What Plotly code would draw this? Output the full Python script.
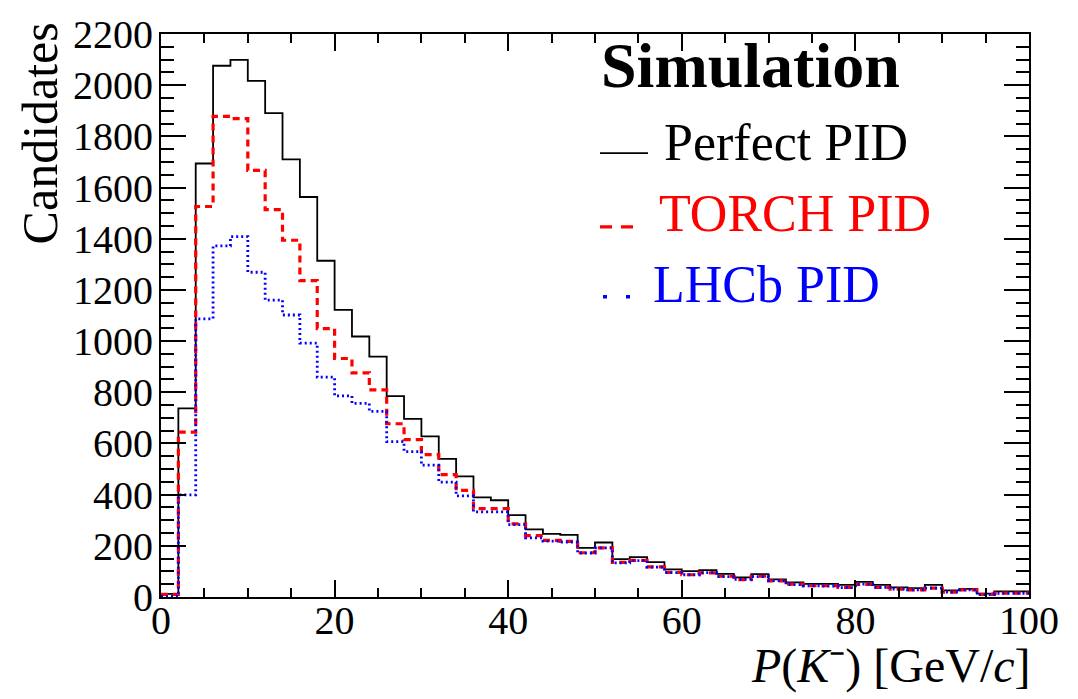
import plotly.graph_objects as go

# Histogram binning: 50 bins of 2 GeV/c from 0 to 100
bin_edges = [2 * i for i in range(51)]

perfect_pid = [12, 737, 1694, 2076, 2099, 2017, 1891, 1710, 1563, 1314,
               1122, 1018, 939, 785, 696, 628, 540, 471, 389, 378,
               320, 264, 247, 243, 192, 213, 148, 156, 136, 108,
               101, 105, 90, 77, 89, 69, 57, 51, 51, 47,
               59, 47, 38, 35, 47, 26, 32, 13, 22, 22]

torch_pid = [10, 644, 1526, 1878, 1869, 1667, 1514, 1394, 1236, 1049,
             932, 876, 809, 677, 615, 556, 478, 417, 345, 345,
             286, 240, 221, 217, 173, 192, 135, 143, 118, 96,
             87, 94, 81, 68, 81, 63, 50, 44, 44, 38,
             49, 38, 31, 28, 35, 19, 28, 10, 15, 15]

lhcb_pid = [2, 399, 1087, 1372, 1408, 1269, 1160, 1102, 992, 859,
            786, 757, 725, 607, 568, 515, 449, 395, 333, 333,
            283, 231, 218, 215, 172, 192, 133, 142, 117, 95,
            87, 95, 80, 69, 80, 64, 48, 44, 43, 37,
            50, 38, 31, 28, 35, 19, 28, 9, 14, 14]

series_names = ["Perfect PID", "TORCH PID", "LHCb PID"]
series_colors = ["#000000", "#ff0000", "#0000ff"]

W, H = 1078, 699
ML, MR, MT, MB = 161, 49, 25, 102
PW, PH = W - ML - MR, H - MT - MB

SERIF = "Liberation Serif, Times New Roman, serif"


def paper_x(px):
    return (px - ML) / PW


def paper_y(py):
    return (H - MB - py) / PH


def step_xy(values):
    return bin_edges, list(values) + [values[-1]]


fig = go.Figure()

line_styles = [
    dict(color=series_colors[0], width=1.8),
    dict(color=series_colors[1], width=3.2, dash="7px,5px"),
    dict(color=series_colors[2], width=2.8, dash="2px,3px"),
]

for vals, name, style in zip([perfect_pid, torch_pid, lhcb_pid], series_names, line_styles):
    xs, ys = step_xy(vals)
    fig.add_trace(go.Scatter(x=xs, y=ys, mode="lines", line_shape="hv",
                             line=style, name=name, showlegend=False,
                             hoverinfo="skip"))

axis_common = dict(
    showgrid=False, zeroline=False, showline=True, linecolor="black",
    linewidth=2, ticks="inside", mirror="ticks", tickcolor="black",
    tickwidth=1.5, tickfont=dict(family=SERIF, size=40, color="black"),
)

fig.update_xaxes(range=[0, 100], dtick=20, tick0=0, ticklen=17,
                 ticklabelstandoff=-13,
                 minor=dict(dtick=5, ticklen=9, ticks="inside",
                            tickcolor="black", tickwidth=1.5),
                 **axis_common)
fig.update_yaxes(range=[0, 2200], dtick=200, tick0=0, ticklen=25,
                 ticklabelstandoff=-2,
                 minor=dict(dtick=50, ticklen=13, ticks="inside",
                            tickcolor="black", tickwidth=1.5),
                 **axis_common)

annotations = []

# Axis titles
annotations.append(dict(
    text="Candidates", textangle=-90, showarrow=False,
    xref="paper", yref="paper", x=paper_x(40), y=paper_y(126),
    xanchor="center", yanchor="middle",
    font=dict(family=SERIF, size=50, color="black")))
annotations.append(dict(
    text="<i>P</i>(<i>K</i>\u207b) [GeV/<i>c</i>]", showarrow=False,
    xref="paper", yref="paper", x=paper_x(1032), y=paper_y(667),
    xanchor="right", yanchor="middle", borderpad=0,
    font=dict(family=SERIF, size=48, color="black")))

# Legend block
annotations.append(dict(
    text="<b>Simulation</b>", showarrow=False,
    xref="paper", yref="paper", x=paper_x(599), y=paper_y(57),
    xanchor="left", yanchor="middle",
    font=dict(family=SERIF, size=64, color="black")))

legend_rows = [(662, 135), (657, 207), (651, 280)]
for (lx, ly), name, color in zip(legend_rows, series_names, series_colors):
    annotations.append(dict(
        text=name, showarrow=False,
        xref="paper", yref="paper", x=paper_x(lx), y=paper_y(ly),
        xanchor="left", yanchor="middle",
        font=dict(family=SERIF, size=52, color=color)))

shapes = [
    dict(type="line", xref="paper", yref="paper",
         x0=paper_x(600), x1=paper_x(648), y0=paper_y(146), y1=paper_y(146),
         line=dict(color=series_colors[0], width=1.8)),
    dict(type="line", xref="paper", yref="paper",
         x0=paper_x(600), x1=paper_x(639), y0=paper_y(221), y1=paper_y(221),
         line=dict(color=series_colors[1], width=3.2, dash="12px,9px")),
    dict(type="line", xref="paper", yref="paper",
         x0=paper_x(603), x1=paper_x(630), y0=paper_y(292), y1=paper_y(292),
         line=dict(color=series_colors[2], width=3.5, dash="4px,19px")),
]

fig.update_layout(
    width=W, height=H,
    margin=dict(l=ML, r=MR, t=MT, b=MB, pad=0),
    paper_bgcolor="white", plot_bgcolor="white",
    annotations=annotations, shapes=shapes,
    showlegend=False,
)

fig.write_html("out.html")
